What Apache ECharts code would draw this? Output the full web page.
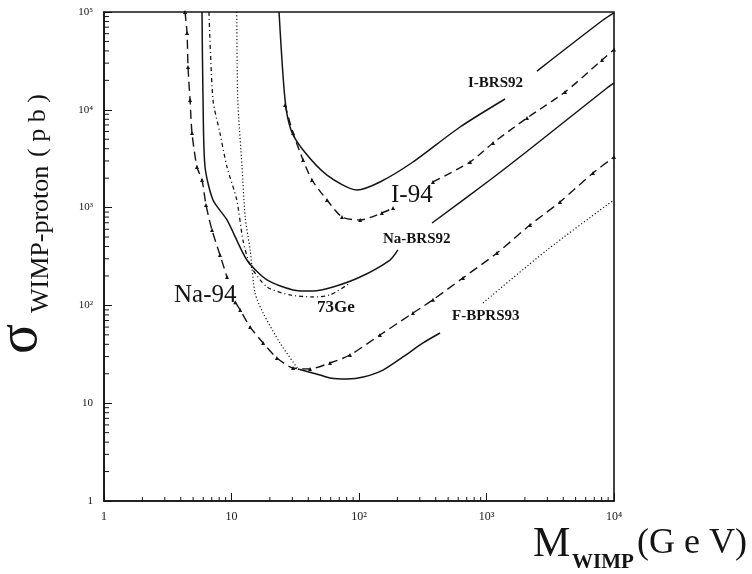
<!DOCTYPE html>
<html>
<head>
<meta charset="utf-8">
<script src="https://cdn.jsdelivr.net/npm/echarts@6.0.0/dist/echarts.min.js"></script>
<style>
html, body { margin: 0; padding: 0; background: #fff; }
#main { width: 752px; height: 574px; }
</style>
</head>
<body>
<div id="main"></div>
<script>
// tick labels
var xTickLabels = ['1', '10', '10²', '10³', '10⁴'];
var yTickLabels = ['1', '10', '10²', '10³', '10⁴', '10⁵'];

// curves (mass in GeV, sigma in pb); null = gap for a label
var iBrs92Mass  = [23.6, 26.3, 29.3, 36.4, 56.1, 96.4, 146, 265, 620, 1397, null, 2489, 8200, 10000];
var iBrs92Sigma = [1e5, 12600, 6210, 3880, 2150, 1514, 1828, 2926, 6670, 12900, null, 24900, 82800, 98000];

var i94Mass  = [26.3, 30.4, 36.4, 42.8, 56.1, 73.6, 102, 151, 185, null, 380, 743, 1125, 2078, 4130, 8050, 10000];
var i94Sigma = [11200, 5790, 3070, 1915, 1196, 801, 747, 881, 991, null, 1828, 2926, 4580, 8240, 15200, 32300, 41300];

var naBrs92Mass  = [5.87, 5.98, 6.2, 7.16, 9.22, 13.2, 19.0, 30.4, 43.6, 62.5, 102, 175, 202, null, 374, 1065, 2194, 8810, 10000];
var naBrs92Sigma = [1e5, 12600, 2600, 1196, 747, 291, 182, 144, 140, 154, 195, 291, 369, null, 696, 1915, 3975, 16700, 18700];

var ge73Mass  = [6.66, 7.16, 8.12, 9.22, 11.0, 12.3, 14.0, 19.0, 28.8, 43.6, 59.2, 85.0];
var ge73Sigma = [1e5, 12600, 5790, 2600, 1196, 466, 259, 154, 128, 122, 128, 169];

var na94Mass  = [4.32, 4.48, 4.56, 4.73, 4.9, 5.36, 5.87, 6.31, 7.03, 8.12, 9.22, null, 10.7, 11.7, 14.0, 17.7, 22.7, 30.4, 41.3, 59.2, 85.0, 146, 265, 380, 654, 1208, 2194, 3770, 6840, 10000];
var na94Sigma = [1e5, 61000, 27400, 12600, 5790, 2600, 1915, 1064, 590, 328, 195, null, 108, 89.8, 60.1, 41.3, 29.0, 22.9, 22.4, 25.8, 31.1, 49.8, 83.6, 114, 191, 343, 664, 1141, 2259, 3290];

var fLeftMass   = [11.0, 11.2, 12.1, 12.8, 14.0, 15.3, 17.7, 24.0, 33.2];
var fLeftSigma  = [1e5, 12600, 2600, 801, 369, 134, 83.6, 41.3, 22.4];
var fMidMass    = [33.2, 49.4, 59.2, 80.5, 108, 154, 221, 318, 432];
var fMidSigma   = [22.4, 19.4, 18.1, 17.7, 18.5, 21.8, 29.7, 41.3, 52.2];
var fRightMass  = [939, 2985, 8810, 10000];
var fRightSigma = [106, 369, 1064, 1196];

var ink = '#141414';
var serif = '"Liberation Serif", "DejaVu Serif", serif';

function pairs(m, s) {
	return m.map(function (v, i) {
		return v == null ? ['-', '-'] : [v, s[i]];
	});
}

function curve(m, s, dash, width, sym) {
	return {
		type: 'line',
		data: pairs(m, s),
		smooth: 0.25,
		showSymbol: !!sym,
		symbol: sym || 'none',
		symbolSize: 4,
		connectNulls: false,
		lineStyle: { color: ink, width: width, type: dash },
		itemStyle: { color: ink },
		animation: false,
		silent: true,
		z: 3
	};
}

// minor tick positions on the log axes
var xMinor = [];
for (var k = 0; k < 4; k++) for (var j = 2; j < 10; j++) xMinor.push(j * Math.pow(10, k));
var yMinor = [];
for (var k2 = 0; k2 < 5; k2++) for (var j2 = 2; j2 < 10; j2++) yMinor.push(j2 * Math.pow(10, k2));

function logIndex(v) { return Math.round(Math.log(v) / Math.LN10); }

var myChart = echarts.init(document.getElementById('main'));
var option = {
	backgroundColor: '#fff',
	animation: false,
	grid: {
		left: 104, right: 138, top: 12, bottom: 73,
		show: true, borderColor: ink, borderWidth: 1.6, backgroundColor: '#fff'
	},
	xAxis: {
		type: 'log', logBase: 10, min: 1, max: 10000,
		axisLine: { lineStyle: { color: ink, width: 1.6 } },
		axisTick: { inside: true, length: 8, lineStyle: { color: ink } },
		splitLine: { show: false },
		axisLabel: {
			margin: 10, color: ink, fontFamily: serif, fontSize: 12,
			formatter: function (v) { return xTickLabels[logIndex(v)]; }
		}
	},
	yAxis: {
		type: 'log', logBase: 10, min: 1, max: 100000,
		axisLine: { lineStyle: { color: ink, width: 1.6 } },
		axisTick: { inside: true, length: 8, lineStyle: { color: ink } },
		splitLine: { show: false },
		axisLabel: {
			margin: 11, color: ink, fontFamily: serif, fontSize: 11,
			formatter: function (v) { return yTickLabels[logIndex(v)]; }
		}
	},
	series: [
		curve(iBrs92Mass, iBrs92Sigma, 'solid', 1.5),
		curve(i94Mass, i94Sigma, [8, 5], 1.4, 'triangle'),
		curve(naBrs92Mass, naBrs92Sigma, 'solid', 1.5),
		curve(ge73Mass, ge73Sigma, [4, 3, 1, 3], 1.3),
		curve(na94Mass, na94Sigma, [9, 5], 1.4, 'triangle'),
		curve(fLeftMass, fLeftSigma, [1.2, 2.2], 1.2),
		curve(fMidMass, fMidSigma, 'solid', 1.5),
		curve(fRightMass, fRightSigma, [1.2, 2.2], 1.2),
		{
			type: 'custom', silent: true, animation: false, clip: false, z: 5,
			data: xMinor.map(function (v) { return [v, 1]; }),
			encode: { x: 0, y: 1 },
			renderItem: function (params, api) {
				var p = api.coord([api.value(0), 1]);
				return { type: 'line', shape: { x1: p[0], y1: p[1], x2: p[0], y2: p[1] - 4 }, style: { stroke: ink, lineWidth: 1 } };
			}
		},
		{
			type: 'custom', silent: true, animation: false, clip: false, z: 5,
			data: yMinor.map(function (v) { return [1, v]; }),
			encode: { x: 0, y: 1 },
			renderItem: function (params, api) {
				var p = api.coord([1, api.value(1)]);
				return { type: 'line', shape: { x1: p[0], y1: p[1], x2: p[0] + 5, y2: p[1] }, style: { stroke: ink, lineWidth: 1 } };
			}
		}
	],
	graphic: [
		// curve labels
		{ type: 'text', x: 468, y: 76, style: { text: 'I-BRS92', font: 'bold 15px ' + serif, fill: ink } },
		{ type: 'text', x: 391, y: 183, style: { text: 'I-94', font: '25px ' + serif, fill: ink } },
		{ type: 'text', x: 383, y: 232, style: { text: 'Na-BRS92', font: 'bold 15px ' + serif, fill: ink } },
		{ type: 'text', x: 174, y: 283, style: { text: 'Na-94', font: '25px ' + serif, fill: ink } },
		{ type: 'text', x: 317, y: 299, style: { text: '73Ge', font: 'bold 17px ' + serif, fill: ink } },
		{ type: 'text', x: 452, y: 309, style: { text: 'F-BPRS93', font: 'bold 15px ' + serif, fill: ink } },
		// y title
		{ type: 'text', x: 21, y: 354, rotation: Math.PI / 2,
			style: { text: 'σ', font: '56px ' + serif, fill: ink, align: 'left', verticalAlign: 'middle' } },
		{ type: 'text', x: 41, y: 313, rotation: Math.PI / 2,
			style: { text: 'WIMP-proton', font: '26px ' + serif, fill: ink, align: 'left', verticalAlign: 'middle' } },
		{ type: 'text', x: 38, y: 157, rotation: Math.PI / 2,
			style: { text: '( p b )', font: '26px ' + serif, fill: ink, align: 'left', verticalAlign: 'middle' } },
		// x title
		{ type: 'text', x: 533, y: 566, style: { text: 'M', font: '42px ' + serif, fill: ink, align: 'left', verticalAlign: 'bottom' } },
		{ type: 'text', x: 572, y: 573, style: { text: 'WIMP', font: 'bold 21px ' + serif, fill: ink, align: 'left', verticalAlign: 'bottom' } },
		{ type: 'text', x: 637, y: 562, style: { text: '(G e V)', font: '36px ' + serif, fill: ink, align: 'left', verticalAlign: 'bottom' } }
	]
};

myChart.setOption(option);
</script>
</body>
</html>
